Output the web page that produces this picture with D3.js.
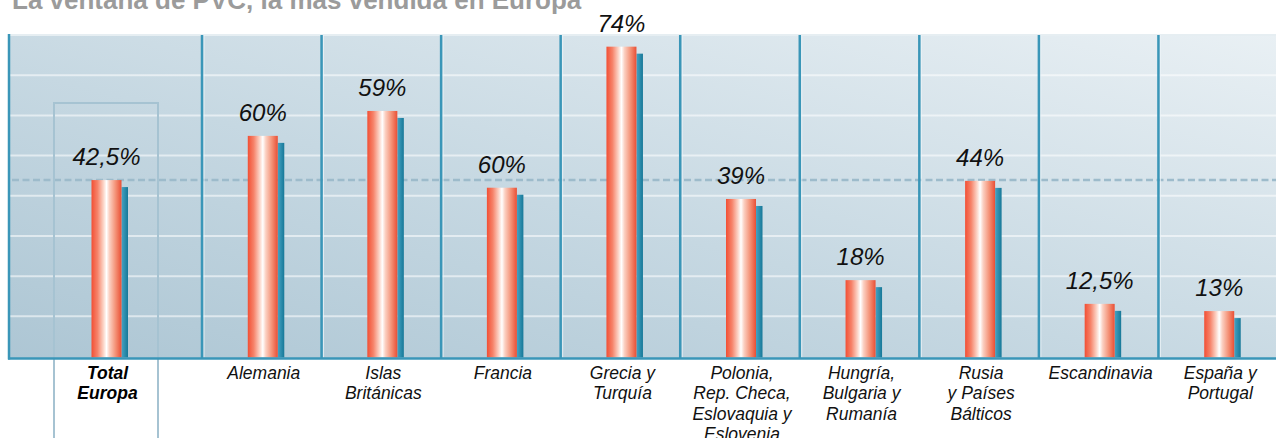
<!DOCTYPE html>
<html>
<head>
<meta charset="utf-8">
<script src="https://cdn.jsdelivr.net/npm/d3@7"></script>
<style>
    body { margin: 0; background: #fff; }
    svg { display: block; }
    .value { font-family: "Liberation Sans", Arial, sans-serif; font-style: italic; font-size: 24px; fill: #111; }
    .cat { font-family: "Liberation Sans", Arial, sans-serif; font-style: italic; font-size: 17.5px; fill: #111; }
    .cat.total { font-weight: bold; fill: #000; }
</style>
</head>
<body>
<div id="chart"></div>
<script>
// data
var title = "La ventana de PVC, la más vendida en Europa";
var categories = ["Total\nEuropa", "Alemania", "Islas\nBritánicas", "Francia", "Grecia y\nTurquía",
    "Polonia,\nRep. Checa,\nEslovaquia y\nEslovenia", "Hungría,\nBulgaria y\nRumanía",
    "Rusia\ny Países\nBálticos", "Escandinavia", "España y\nPortugal"];
var shareLabels = ["42,5%", "60%", "59%", "60%", "74%", "39%", "18%", "44%", "12,5%", "13%"];
// drawn bar heights (the picture does not scale them to the labels)
var barHeights = [43.9, 54.9, 61.1, 42.0, 77.1, 39.2, 19.0, 43.7, 13.1, 11.3];
var gridTicks = [10, 20, 30, 40, 50, 60, 70];
var referenceIndex = 0; // dashed line at "Total Europa"

var width = 1276, height = 438;
var panel = { left: 9, top: 35, bottom: 356.5, right: 1278 };
var barWidth = 30, shadowWidth = 6.5, shadowDrop = 7;

// first column is wider than the others
var x = d3.scaleLinear()
    .domain([0, 1, categories.length])
    .range([panel.left, 202, panel.right]);
var y = d3.scaleLinear()
    .domain([0, 80])
    .range([panel.bottom, panel.top]);

function colMid(i) { return (x(i) + x(i + 1)) / 2 + 1; }

var svg = d3.select("#chart").append("svg")
    .attr("width", width)
    .attr("height", height);

var defs = svg.append("defs");

var bg = defs.append("linearGradient").attr("id", "bg")
    .attr("x1", 0).attr("y1", 1).attr("x2", 1).attr("y2", 0);
bg.append("stop").attr("offset", "0%").attr("stop-color", "#adc6d4");
bg.append("stop").attr("offset", "45%").attr("stop-color", "#c6d8e2");
bg.append("stop").attr("offset", "100%").attr("stop-color", "#e9f0f4");

var red = defs.append("linearGradient").attr("id", "red")
    .attr("x1", 0).attr("y1", 0).attr("x2", 1).attr("y2", 0);
[["0%", "#f24f34"], ["20%", "#f6836a"], ["40%", "#fcd5c8"], ["50%", "#ffffff"],
 ["60%", "#fbd0c2"], ["80%", "#f49277"], ["100%", "#e94f35"]].forEach(function(s) {
    red.append("stop").attr("offset", s[0]).attr("stop-color", s[1]);
});

var blue = defs.append("linearGradient").attr("id", "blue")
    .attr("x1", 0).attr("y1", 0).attr("x2", 1).attr("y2", 0);
blue.append("stop").attr("offset", "0%").attr("stop-color", "#45a3c3");
blue.append("stop").attr("offset", "100%").attr("stop-color", "#177898");

// title, cut by the top edge
svg.append("text")
    .attr("x", 12)
    .attr("y", 9)
    .style("font-family", "'Liberation Sans', Arial, sans-serif")
    .style("font-weight", "bold")
    .style("font-size", "26px")
    .style("fill", "#9b9b9b")
    .text(title);

// panel
svg.append("rect")
    .attr("x", panel.left)
    .attr("y", panel.top)
    .attr("width", panel.right - panel.left)
    .attr("height", panel.bottom - panel.top + 2)
    .style("fill", "url(#bg)");

svg.append("line")
    .attr("x1", panel.left).attr("x2", panel.right)
    .attr("y1", panel.top).attr("y2", panel.top)
    .style("stroke", "#e6eef2").style("stroke-width", 2);

// gridlines
svg.selectAll(".grid").data(gridTicks).enter().append("line")
    .attr("class", "grid")
    .attr("x1", panel.left).attr("x2", panel.right)
    .attr("y1", function(d) { return y(d); })
    .attr("y2", function(d) { return y(d); })
    .style("stroke", "#ffffff")
    .style("stroke-opacity", 0.55)
    .style("stroke-width", 2);

// reference dashed line
svg.append("line")
    .attr("x1", panel.left + 3).attr("x2", panel.right)
    .attr("y1", y(barHeights[referenceIndex]))
    .attr("y2", y(barHeights[referenceIndex]))
    .style("stroke", "#9dbbcb")
    .style("stroke-width", 2.5)
    .style("stroke-dasharray", "7,3.5");

// box round Total Europa
svg.append("rect")
    .attr("x", 54)
    .attr("y", 103)
    .attr("width", 104)
    .attr("height", 400)
    .style("fill", "none")
    .style("stroke", "#a6c3d2")
    .style("stroke-width", 2);

// column separators
var seps = d3.range(1, categories.length);
svg.selectAll(".sep-hi").data(seps).enter().append("line")
    .attr("x1", function(d) { return x(d) + 2; })
    .attr("x2", function(d) { return x(d) + 2; })
    .attr("y1", panel.top).attr("y2", panel.bottom + 1)
    .style("stroke", "#eef4f7").style("stroke-opacity", 0.8).style("stroke-width", 1);
svg.selectAll(".sep").data(seps).enter().append("line")
    .attr("x1", function(d) { return x(d); })
    .attr("x2", function(d) { return x(d); })
    .attr("y1", panel.top).attr("y2", panel.bottom + 2)
    .style("stroke", "#3a96b8").style("stroke-width", 2.5);

// left edge and baseline
svg.append("line")
    .attr("x1", panel.left).attr("x2", panel.left)
    .attr("y1", panel.top - 1).attr("y2", panel.bottom + 3)
    .style("stroke", "#3a96b8").style("stroke-width", 2.5);

// bars: shadow first, then the red cylinder
var bar = svg.selectAll(".bar").data(barHeights).enter().append("g").attr("class", "bar");

bar.append("rect")
    .attr("x", function(d, i) { return colMid(i) + barWidth / 2; })
    .attr("y", function(d) { return y(d) + shadowDrop; })
    .attr("width", shadowWidth)
    .attr("height", function(d) { return panel.bottom - y(d) - shadowDrop + 1; })
    .style("fill", "url(#blue)");

bar.append("rect")
    .attr("x", function(d, i) { return colMid(i) - barWidth / 2; })
    .attr("y", function(d) { return y(d); })
    .attr("width", barWidth)
    .attr("height", function(d) { return panel.bottom - y(d) + 1; })
    .style("fill", "url(#red)");

bar.append("text")
    .attr("class", "value")
    .attr("x", function(d, i) { return colMid(i); })
    .attr("y", function(d) { return y(d) - 15; })
    .attr("text-anchor", "middle")
    .text(function(d, i) { return shareLabels[i]; });

svg.append("line")
    .attr("x1", panel.left - 1).attr("x2", panel.right)
    .attr("y1", panel.bottom + 2).attr("y2", panel.bottom + 2)
    .style("stroke", "#3a96b8").style("stroke-width", 2.5);

// category labels
var cat = svg.selectAll(".cat").data(categories).enter().append("text")
    .attr("class", function(d, i) { return i === 0 ? "cat total" : "cat"; })
    .attr("text-anchor", "middle")
    .attr("y", 379);

cat.selectAll("tspan")
    .data(function(d, i) { return d.split("\n").map(function(t) { return { t: t, i: i }; }); })
    .enter().append("tspan")
    .attr("x", function(d) { return colMid(d.i) + 1; })
    .attr("dy", function(d, j) { return j === 0 ? 0 : 20.3; })
    .text(function(d) { return d.t; });
</script>
</body>
</html>
